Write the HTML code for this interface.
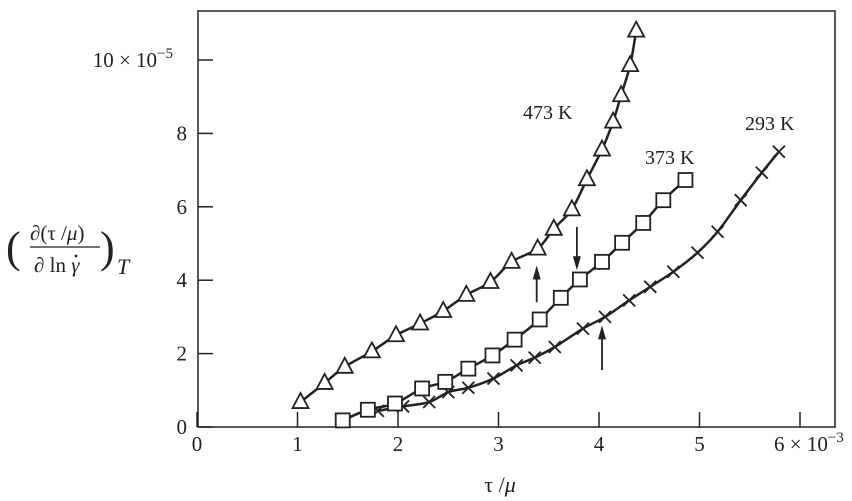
<!DOCTYPE html>
<html><head><meta charset="utf-8"><style>
html,body{margin:0;padding:0;background:#fff;}
svg{display:block;font-family:"Liberation Serif",serif;}
</style></head><body>
<svg id="chart" width="852" height="501" viewBox="0 0 852 501">
<rect x="198" y="11" width="637" height="416" fill="none" stroke="#222" stroke-width="1.5"/>
<g id="axes"></g>
<g id="series"></g>
<g fill="#222">
<text x="6" y="262" font-size="44">(</text>
<text x="30" y="240" font-size="21">∂(τ /<tspan font-style="italic">μ</tspan>)</text>
<line x1="30" y1="247" x2="100" y2="247" stroke="#222" stroke-width="1.3"/>
<text x="34" y="272" font-size="21">∂ ln <tspan font-style="italic">γ</tspan></text>
<circle cx="76" cy="256" r="1.4" fill="#222"/>
<text x="100" y="262" font-size="44">)</text>
<text x="117" y="274" font-size="22" font-style="italic">T</text>
</g>
<text x="500" y="492" font-size="22" text-anchor="middle" fill="#222">τ /<tspan font-style="italic">μ</tspan></text>
<text x="523" y="119" font-size="20" fill="#222">473 K</text>
<text x="645" y="164" font-size="20" fill="#222">373 K</text>
<text x="745" y="130" font-size="20" fill="#222">293 K</text>
</svg>
<script>
const xTicks=[0,1,2,3,4,5,6];
const xTickLabels=["0","1","2","3","4","5","6"];
const yTicks=[0,2,4,6,8,10];
const yTickLabels=["0","2","4","6","8","10"];
const x473=[1.03,1.27,1.47,1.74,1.98,2.22,2.45,2.68,2.92,3.13,3.39,3.55,3.73,3.88,4.03,4.14,4.22,4.31,4.37];
const y473=[0.68,1.2,1.64,2.06,2.5,2.82,3.16,3.6,3.95,4.5,4.86,5.4,5.93,6.75,7.56,8.32,9.04,9.86,10.8];
const x373=[1.45,1.70,1.97,2.24,2.47,2.70,2.94,3.16,3.41,3.62,3.81,4.03,4.23,4.44,4.64,4.86];
const y373=[0.18,0.47,0.64,1.05,1.23,1.59,1.95,2.38,2.93,3.52,4.02,4.5,5.02,5.56,6.18,6.73];
const x293=[1.80,2.05,2.31,2.50,2.70,2.95,3.18,3.36,3.56,3.84,4.06,4.30,4.51,4.74,4.98,5.18,5.41,5.62,5.79];
const y293=[0.44,0.56,0.68,0.95,1.07,1.32,1.68,1.89,2.18,2.68,3.0,3.45,3.82,4.23,4.75,5.32,6.18,6.93,7.5];
const arrowX=[3.38,3.78,4.03];
const arrowFrom=[3.4,5.45,1.55];
const arrowTo=[4.4,4.27,2.77];

const NS="http://www.w3.org/2000/svg";
const sx=v=>197+100.5*v;
const sy=v=>427-36.7*v;
function mk(tag,attrs,parent){const e=document.createElementNS(NS,tag);for(const k in attrs)e.setAttribute(k,attrs[k]);parent.appendChild(e);return e;}
const axes=document.getElementById('axes');
const ser=document.getElementById('series');
xTicks.forEach((t,i)=>{
  const l=mk('line',{x1:sx(t),x2:sx(t),y1:427,y2:412,stroke:'#222','stroke-width':1.5},axes);
  
  
  const tx=mk('text',{x:sx(t),y:451,'font-size':21,'text-anchor':'middle',fill:'#222'},axes);
  tx.textContent=xTickLabels[i];
  
  
  if(i===xTicks.length-1){
    tx.setAttribute('text-anchor','start');tx.setAttribute('x',sx(t)-26);
    tx.innerHTML=xTickLabels[i]+' × 10<tspan dy="-9" font-size="15">−3</tspan>';
  }
});
yTicks.forEach((t,i)=>{
  const l=mk('line',{x1:198,x2:213,y1:sy(t),y2:sy(t),stroke:'#222','stroke-width':1.5},axes);
  
  
  const tx=mk('text',{x:187,y:sy(t)+7,'font-size':21,'text-anchor':'end',fill:'#222'},axes);
  
  
  if(i===yTicks.length-1){tx.setAttribute('x',173);tx.innerHTML=yTickLabels[i]+' × 10<tspan dy="-9" font-size="15">−5</tspan>';}
  else tx.textContent=yTickLabels[i];
});
function smooth(xs,ys){
  const p=xs.map((x,i)=>[sx(x),sy(ys[i])]);
  let d='M'+p[0][0]+','+p[0][1];
  for(let i=0;i<p.length-1;i++){
    const p0=p[i-1]||p[i],p1=p[i],p2=p[i+1],p3=p[i+2]||p2;
    const c1=[p1[0]+(p2[0]-p0[0])/6,p1[1]+(p2[1]-p0[1])/6];
    const c2=[p2[0]-(p3[0]-p1[0])/6,p2[1]-(p3[1]-p1[1])/6];
    d+=` C${c1[0]},${c1[1]} ${c2[0]},${c2[1]} ${p2[0]},${p2[1]}`;
  }
  return d;
}
function series(xs,ys,kind,name){
  const g=mk('g',{},ser);
  
  
  const path=mk('path',{d:smooth(xs,ys),fill:'none',stroke:'#222','stroke-width':2.5},g);
  
  
  xs.forEach((x,i)=>{
    const cx=sx(x),cy=sy(ys[i]);let m;
    if(kind==='tri') m=mk('path',{d:`M${cx},${cy-9} L${cx+8},${cy+6} L${cx-8},${cy+6} Z`,fill:'#fff',stroke:'#222','stroke-width':1.8},g);
    else if(kind==='sq') m=mk('rect',{x:cx-7,y:cy-7,width:14,height:14,fill:'#fff',stroke:'#222','stroke-width':1.8},g);
    else m=mk('path',{d:`M${cx-6},${cy-6}L${cx+6},${cy+6}M${cx+6},${cy-6}L${cx-6},${cy+6}`,stroke:'#222','stroke-width':1.8},g);
    
    
  });
}
series(x293,y293,'x','series-293k');
series(x373,y373,'sq','series-373k');
series(x473,y473,'tri','series-473k');
arrowX.forEach((x,i)=>{
  const X=sx(x),y1=sy(arrowFrom[i]),y2=sy(arrowTo[i]);const dir=y2<y1?1:-1;
  const l=mk('line',{x1:X,x2:X,y1:y1,y2:y2+dir*10,stroke:'#222','stroke-width':1.8},ser);
  
  
  const h=mk('path',{d:`M${X},${y2} L${X-4},${y2+dir*14} L${X+4},${y2+dir*14} Z`,fill:'#222'},ser);
  
  
});
</script>
</body></html>
